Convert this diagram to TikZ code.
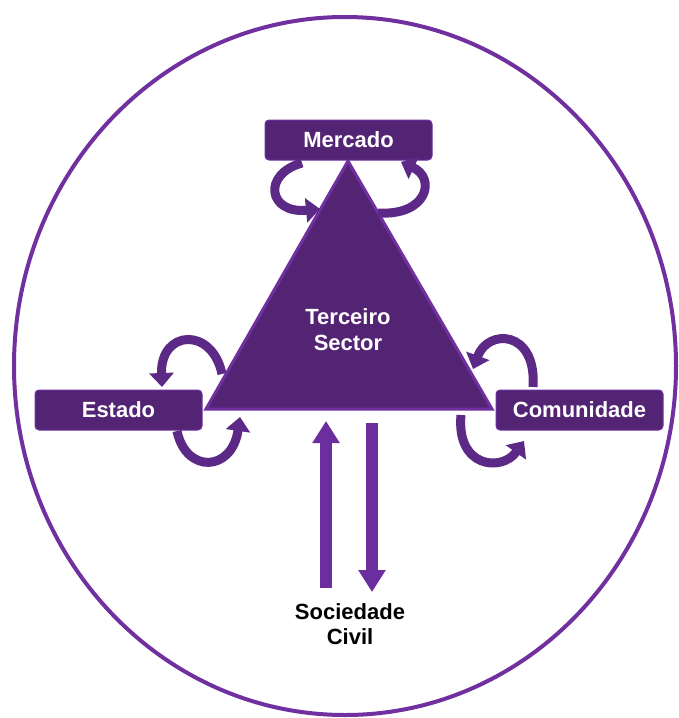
\documentclass[tikz,border=0pt]{standalone}
\usepackage{fontspec}
\setmainfont{Liberation Sans}
\usetikzlibrary{arrows.meta}
\definecolor{ringpurple}{HTML}{7030A0}
\definecolor{darkpurple}{HTML}{542474}
\definecolor{arrowpurple}{HTML}{5C2986}
\definecolor{vertpurple}{HTML}{6B2E9E}
\tikzset{
  labelbox/.style={draw=ringpurple, line width=1pt, fill=darkpurple, rounded corners=4pt,
    minimum width=167pt, minimum height=40pt, inner sep=0pt, text=white,
    font=\fontsize{22}{26}\selectfont\bfseries},
  loopar/.style={draw=arrowpurple, line width=9pt,
    -{Triangle[length=14pt,width=24pt]}},
  vertar/.style={draw=vertpurple, line width=12pt,
    -{Triangle[length=22pt,width=26pt]}},
}
\begin{document}
\begin{tikzpicture}[x=1pt,y=-1pt]
\useasboundingbox (0,0) rectangle (678,718);
% outer ring
\draw[ringpurple, line width=4pt] (345,366) ellipse [x radius=331, y radius=349];
% triangle
\coordinate (A) at (348,161);
\coordinate (B) at (206,409);
\coordinate (C) at (492,409);
\draw[fill=darkpurple, draw=ringpurple, line width=3pt, line join=miter] (A) -- (B) -- (C) -- cycle;
\node[text=white, font=\fontsize{22}{26}\selectfont\bfseries, align=center] (ts) at (348,330) {Terceiro\\Sector};
% boxes
\node[labelbox] (merc) at (348.5,140) {Mercado};
\node[labelbox] (est) at (118.5,410) {Estado};
\node[labelbox] (com) at (579.5,410) {Comunidade};
% Sociedade civil
\node[font=\fontsize{22}{25}\selectfont\bfseries, align=center] (soc) at (350,624) {Sociedade\\Civil};
% curved arrows
\coordinate (m1s) at (302,163); \coordinate (m1e) at (320,209);
\draw[loopar] (m1s) .. controls (262,174) and (268,214) .. (m1e);
\coordinate (m2s) at (378,213); \coordinate (m2e) at (401,162);
\draw[loopar] (m2s) .. controls (428,216) and (436,178) .. (m2e);
\coordinate (e1s) at (222,374); \coordinate (e1e) at (162,387);
\draw[loopar] (e1s) .. controls (212,326) and (160,330) .. (e1e);
\coordinate (e2s) at (177,431); \coordinate (e2e) at (240,417);
\draw[loopar] (e2s) .. controls (186,474) and (232,472) .. (e2e);
\coordinate (c1s) at (533,387); \coordinate (c1e) at (473,369);
\draw[loopar] (c1s) .. controls (537,330) and (488,328) .. (c1e);
\coordinate (c2s) at (461,415); \coordinate (c2e) at (524,441);
\draw[loopar] (c2s) .. controls (456,468) and (502,472) .. (c2e);
% vertical arrows
\coordinate (u1) at (326,588); \coordinate (u2) at (326,421);
\draw[vertar] (u1) -- (u2);
\coordinate (d1) at (372,423); \coordinate (d2) at (372,592);
\draw[vertar] (d1) -- (d2);
\end{tikzpicture}
\end{document}
